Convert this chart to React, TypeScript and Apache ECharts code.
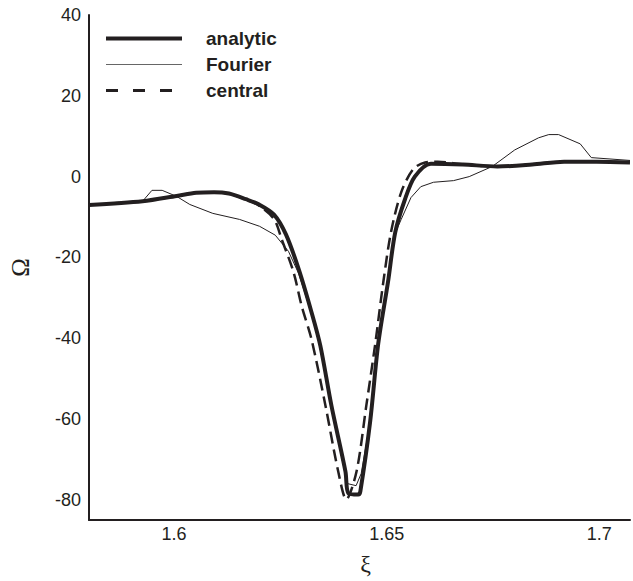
import React, { useEffect, useRef } from "react";
import * as echarts from "echarts";

const xTickLabels = [1.6, 1.65, 1.7];
const yTickLabels = [-80, -60, -40, -20, 0, 20, 40];

const analyticX = [1.58, 1.5926, 1.6006, 1.6052, 1.6094, 1.6129, 1.6169, 1.62, 1.6235, 1.6263, 1.6293, 1.6323, 1.6344, 1.637, 1.6403, 1.641, 1.6433, 1.6438, 1.6461, 1.648, 1.6503, 1.652, 1.6543, 1.6566, 1.6604, 1.6679, 1.676, 1.6842, 1.6917, 1.6994, 1.7072];
const analyticY = [-7.0, -6.1, -4.8, -4.0, -3.85, -4.2, -5.6, -6.9, -9.4, -14.3, -22.9, -33.5, -41.9, -56.7, -73.0, -78.4, -78.7, -77.9, -60.7, -41.4, -26.1, -13.8, -5.6, 0.0, 3.2, 3.0, 2.5, 3.0, 3.7, 3.7, 3.5];

const fourierX = [1.58, 1.5926, 1.5948, 1.5972, 1.6006, 1.6037, 1.6091, 1.6154, 1.6201, 1.6238, 1.6269, 1.6293, 1.6323, 1.6344, 1.637, 1.6395, 1.6408, 1.6428, 1.644, 1.6461, 1.648, 1.6503, 1.652, 1.6534, 1.6557, 1.658, 1.661, 1.6657, 1.6694, 1.6748, 1.6801, 1.6857, 1.6881, 1.6904, 1.6955, 1.6981, 1.7072];
const fourierY = [-7.0, -6.1, -3.4, -3.4, -4.9, -6.9, -9.1, -10.6, -12.3, -14.5, -18.5, -24.0, -34.0, -42.5, -56.0, -70.0, -76.0, -76.5, -73.5, -60.7, -41.4, -26.1, -14.0, -10.6, -5.2, -2.5, -1.4, -1.0, 0.0, 2.5, 6.6, 9.6, 10.4, 10.4, 8.1, 4.7, 4.0];

const centralX = [1.58, 1.5926, 1.6006, 1.6052, 1.6094, 1.6129, 1.6169, 1.62, 1.6235, 1.6253, 1.6281, 1.63, 1.6323, 1.6356, 1.6386, 1.6405, 1.6429, 1.6452, 1.6473, 1.6492, 1.651, 1.6534, 1.6562, 1.659, 1.662, 1.6679, 1.676, 1.6842, 1.6917, 1.6994, 1.7072];
const centralY = [-7.0, -6.1, -4.8, -4.0, -3.85, -4.2, -5.7, -7.2, -10.5, -15.5, -23.7, -32.0, -40.2, -56.7, -73.0, -79.9, -73.0, -56.7, -41.4, -26.1, -13.8, -3.9, 1.8, 3.5, 3.7, 3.0, 2.5, 3.0, 3.7, 3.7, 3.5];

const zip = (xs: number[], ys: number[]) => xs.map((x, i) => [x, ys[i]]);

const INK = "#231f20";

export default function App() {
  const ref = useRef<HTMLDivElement>(null);
  useEffect(() => {
    if (!ref.current) return;
    const chart = echarts.init(ref.current, null, { renderer: "svg" });
    const fmt = (list: number[]) => (v: number) => {
      const hit = list.find((t) => Math.abs(t - v) < 1e-6);
      return hit === undefined ? "" : String(hit);
    };
    chart.setOption({
      animation: false,
      backgroundColor: "#ffffff",
      grid: { left: 89, top: 15, right: 0, bottom: 59, containLabel: false },
      legend: {
        orient: "vertical",
        left: 104,
        top: 29,
        padding: 0,
        itemWidth: 76,
        itemHeight: 16,
        itemGap: 7,
        itemStyle: { opacity: 0 },
        data: [
          { name: "analytic", lineStyle: { width: 4, color: INK } },
          { name: "Fourier", lineStyle: { width: 1, color: "#666666" } },
          { name: "central", lineStyle: { width: 3, color: INK, type: [12, 15] } },
        ],
        textStyle: {
          fontFamily: "Liberation Sans",
          fontWeight: "bold",
          fontSize: 19,
          color: INK,
          padding: [0, 0, 0, 19],
        },
      },
      xAxis: {
        type: "value",
        min: 1.58,
        max: 1.7072,
        splitNumber: 3,
        name: "ξ",
        nameLocation: "middle",
        nameGap: 32,
        nameTextStyle: { fontFamily: "Liberation Serif", fontSize: 24, color: INK, padding: [0, 0, 0, 12] },
        axisLine: { show: true, onZero: false, lineStyle: { color: INK, width: 2 } },
        axisTick: { show: false },
        splitLine: { show: false },
        axisLabel: {
          formatter: fmt(xTickLabels),
          fontFamily: "Liberation Sans",
          fontSize: 18,
          color: INK,
          margin: 5,
        },
      },
      yAxis: {
        type: "value",
        min: -85,
        max: 40,
        splitNumber: 6,
        name: "Ω",
        nameLocation: "middle",
        nameGap: 56,
        nameRotate: 90,
        nameTextStyle: { fontFamily: "Liberation Serif", fontSize: 25, color: INK },
        axisLine: { show: true, onZero: false, lineStyle: { color: INK, width: 2 } },
        axisTick: { show: false },
        splitLine: { show: false },
        axisLabel: {
          formatter: fmt(yTickLabels),
          fontFamily: "Liberation Sans",
          fontSize: 18,
          color: INK,
          margin: 8,
        },
      },
      series: [
        {
          name: "analytic",
          type: "line",
          data: zip(analyticX, analyticY),
          symbol: "none",
          smooth: 0.3,
          lineStyle: { color: INK, width: 4 },
          itemStyle: { color: INK },
          z: 3,
        },
        {
          name: "Fourier",
          type: "line",
          data: zip(fourierX, fourierY),
          symbol: "none",
          smooth: false,
          lineStyle: { color: INK, width: 1 },
          itemStyle: { color: INK },
          z: 4,
        },
        {
          name: "central",
          type: "line",
          data: zip(centralX, centralY),
          symbol: "none",
          smooth: 0.3,
          lineStyle: { color: INK, width: 2.5, type: [12, 6] },
          itemStyle: { color: INK },
          z: 2,
        },
      ],
    });
    return () => chart.dispose();
  }, []);
  return (
    <div
      ref={ref}
      style={{ position: "absolute", left: 0, top: 0, width: 633, height: 581 }}
    />
  );
}
